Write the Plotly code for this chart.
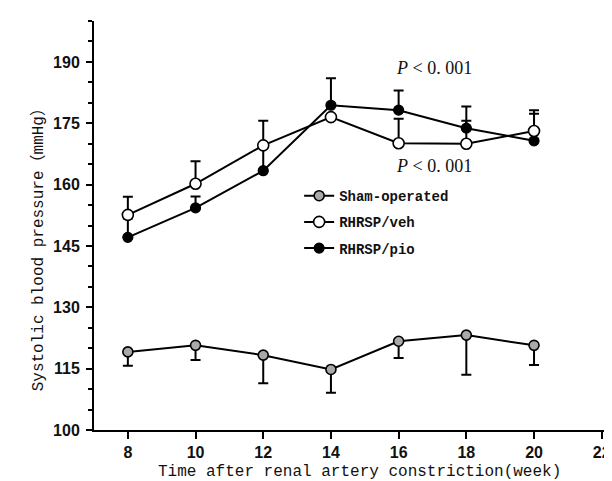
import plotly.graph_objects as go

weeks = [8, 10, 12, 14, 16, 18, 20]

sham_mean = [119.1, 120.7, 118.3, 114.8, 121.7, 123.2, 120.7]
sham_err_lo = [3.4, 3.6, 6.9, 5.7, 4.1, 9.7, 4.8]

veh_mean = [152.6, 160.2, 169.6, 176.5, 170.1, 170.0, 173.1]
veh_err_hi = [4.4, 5.5, 6.0, 0.0, 6.0, 5.6, 5.1]

pio_mean = [147.1, 154.3, 163.4, 179.4, 178.2, 173.8, 170.7]
pio_err_hi = [4.6, 2.8, 6.0, 6.6, 4.8, 5.3, 6.6]

x_ticks = [8, 10, 12, 14, 16, 18, 20, 22]
y_ticks = [100, 115, 130, 145, 160, 175, 190]

title_font = dict(family="Liberation Mono, Noto Sans CJK SC", size=16, color="#111")
legend_font = dict(family="Liberation Mono", size=14, color="#111", weight="bold")
tick_font = dict(family="Liberation Sans", size=16, color="#111", weight="bold")

fig = go.Figure()

fig.add_trace(go.Scatter(
    x=weeks, y=sham_mean, name="Sham-operated", mode="lines+markers",
    line=dict(color="black", width=2),
    marker=dict(size=10, color="#a9a9a9", line=dict(color="black", width=1.6)),
    error_y=dict(type="data", symmetric=False, array=[0] * len(weeks),
                 arrayminus=sham_err_lo, color="black", thickness=2, width=5),
    legendgroup="a",
))
fig.add_trace(go.Scatter(
    x=weeks, y=pio_mean, name="RHRSP/pio", mode="lines+markers",
    line=dict(color="black", width=2),
    marker=dict(size=10, color="black", line=dict(color="black", width=1.2)),
    error_y=dict(type="data", symmetric=False, array=pio_err_hi,
                 arrayminus=[0] * len(weeks), color="black", thickness=2, width=5),
    legendgroup="c", showlegend=False,
))
fig.add_trace(go.Scatter(
    x=weeks, y=veh_mean, name="RHRSP/veh", mode="lines+markers",
    line=dict(color="black", width=2),
    marker=dict(size=11, color="white", line=dict(color="black", width=1.6)),
    error_y=dict(type="data", symmetric=False, array=veh_err_hi,
                 arrayminus=[0] * len(weeks), color="black", thickness=2, width=5),
    legendgroup="b",
))
# legend entry for pio (kept last in the legend order)
fig.add_trace(go.Scatter(
    x=[None], y=[None], name="RHRSP/pio", mode="lines+markers",
    line=dict(color="black", width=2),
    marker=dict(size=10, color="black", line=dict(color="black", width=1.2)),
    legendgroup="c",
))

p_font = dict(family="Liberation Serif", size=18, color="#111")
fig.add_annotation(x=17.05, y=188.5, xref="x", yref="y", showarrow=False,
                   text="<i>P</i> < 0. 001", font=p_font)
fig.add_annotation(x=17.05, y=164.5, xref="x", yref="y", showarrow=False,
                   text="<i>P</i> < 0. 001", font=p_font)

fig.add_annotation(x=-0.105, y=0.451, xref="paper", yref="paper", showarrow=False,
                   text="Systolic blood pressure（mmHg）", textangle=-90,
                   xanchor="center", yanchor="middle", font=title_font)
fig.add_annotation(x=0.505, y=-0.102, xref="paper", yref="paper", showarrow=False,
                   text="Time after renal artery constriction(week)",
                   xanchor="center", yanchor="middle", font=title_font)

fig.update_layout(
    width=612, height=481,
    margin=dict(l=86, r=0, t=13, b=59),
    paper_bgcolor="white", plot_bgcolor="white",
    showlegend=True,
    legend=dict(x=0.39, y=0.611, xanchor="left", yanchor="top",
                font=legend_font, bgcolor="rgba(0,0,0,0)",
                tracegroupgap=5, traceorder="grouped"),
)
fig.update_xaxes(
    range=[7, 22.54], tickvals=x_ticks, ticktext=[str(v) for v in x_ticks],
    showline=True, linecolor="black", linewidth=2,
    ticks="outside", ticklen=7, tickwidth=2, tickcolor="black",
    showgrid=False, zeroline=False, tickfont=tick_font,
    automargin=False, ticklabeloverflow="allow",
)
fig.update_yaxes(
    range=[100, 200], tickvals=y_ticks, ticktext=[str(v) for v in y_ticks],
    showline=True, linecolor="black", linewidth=2,
    ticks="outside", ticklen=6, tickwidth=2, tickcolor="black",
    minor=dict(dtick=5, tick0=100, ticks="outside", ticklen=4, tickwidth=2,
               tickcolor="black", showgrid=False),
    showgrid=False, zeroline=False, tickfont=tick_font, ticklabelstandoff=3,
    automargin=False,
)

fig.write_html("out.html")
